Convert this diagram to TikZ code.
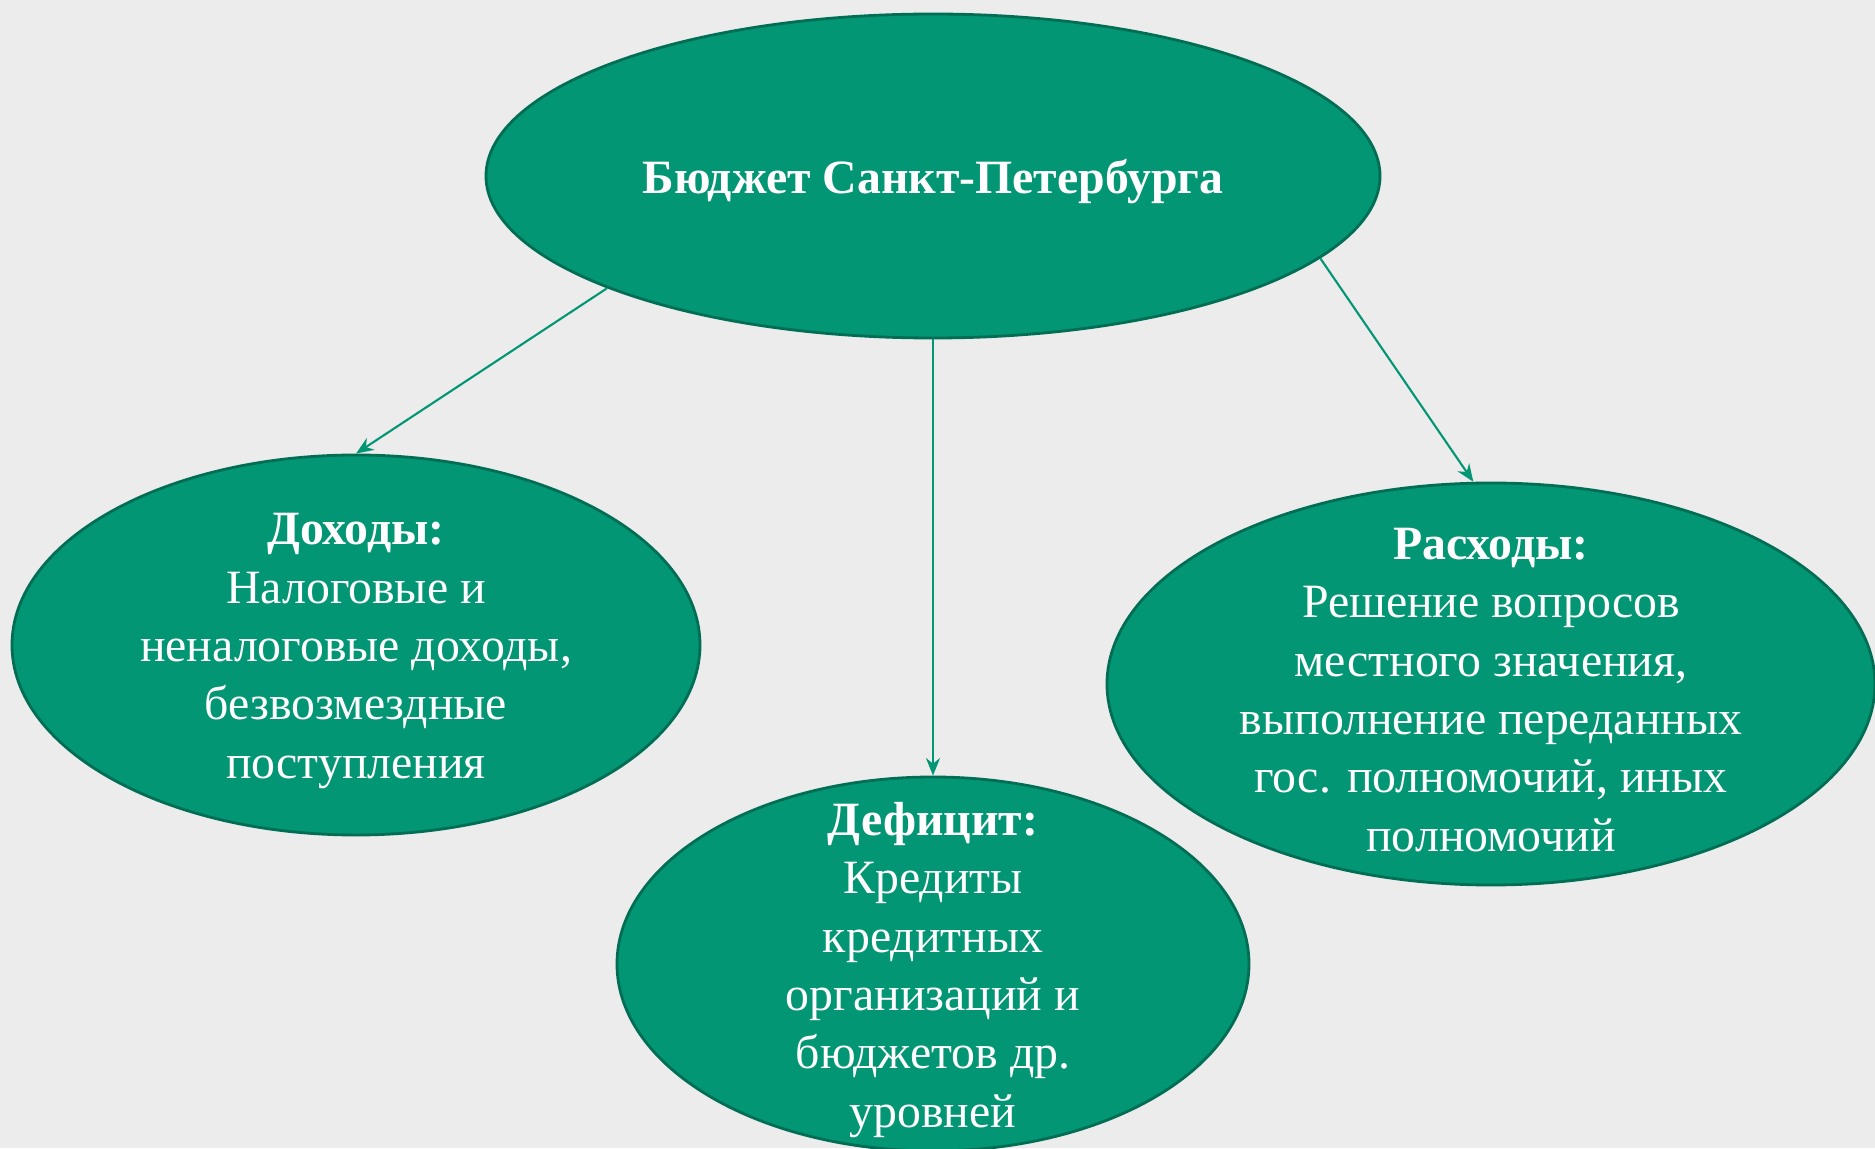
\documentclass[tikz,border=0pt]{standalone}
\usepackage{fontspec}
\setmainfont{Liberation Serif}
\usetikzlibrary{shapes.geometric,arrows.meta}
\definecolor{budgetgreen}{RGB}{3,150,116}
\definecolor{budgetedge}{RGB}{0,110,84}
\definecolor{budgetback}{RGB}{236,236,236}

\begin{document}
\begin{tikzpicture}[
  part/.style={draw=budgetedge,fill=budgetgreen,ellipse,line width=0.8pt,inner sep=0pt},
  parttext/.style={text=white,align=center,yshift=-0.06cm,font=\fontsize{13.6}{16.6}\selectfont},
  link/.style={draw=budgetgreen,line width=0.6pt,-{Stealth[length=5pt,width=4pt]}}]
\fill[budgetback] (0,0) rectangle (18.75,11.48);
\useasboundingbox (0,0) rectangle (18.75,11.48);
\node (b) at (9.33,9.72)
  [part,minimum width=8.94cm,minimum height=3.24cm] {};
\node (d) at (3.56,5.03)
  [part,minimum width=6.88cm,minimum height=3.80cm] {};
\node (f) at (9.33,1.84)
  [part,minimum width=6.32cm,minimum height=3.74cm] {};
\node (r) at (14.91,4.64)
  [part,minimum width=7.68cm,minimum height=4.02cm] {};
\node (bt) at (b.center) [parttext] {\textbf{Бюджет Санкт-Петербурга}};
\node (dt) at (d.center) [parttext]
  {\textbf{Доходы:}\\Налоговые и\\неналоговые доходы,\\безвозмездные\\поступления};
\node (ft) at (f.center) [parttext]
  {\textbf{Дефицит:}\\Кредиты\\кредитных\\организаций и\\бюджетов др.\\уровней};
\node (rt) at (r.center) [parttext]
  {\textbf{Расходы:}\\Решение вопросов\\местного значения,\\выполнение переданных\\гос. полномочий, иных\\полномочий};
\draw[link] (b.199) -- (d.north);
\draw[link] (b.south) -- (f.north);
\draw[link] (b.-12) -- (r.95);
\end{tikzpicture}
\end{document}
